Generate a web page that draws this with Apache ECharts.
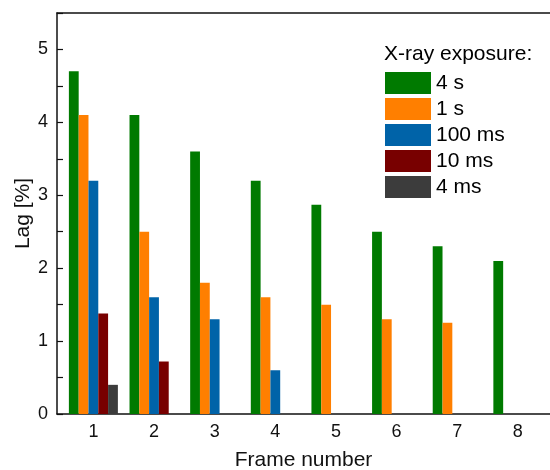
<!DOCTYPE html>
<html>
<head>
<meta charset="utf-8">
<script src="https://cdn.jsdelivr.net/npm/echarts@6/dist/echarts.min.js"></script>
<style>
  html, body { margin: 0; padding: 0; background: #fff; }
  #chart { width: 550px; height: 470px; }
</style>
</head>
<body>
<div id="chart"></div>
<script>
const frames = [1, 2, 3, 4, 5, 6, 7, 8]
const exposureNames = ['4 s', '1 s', '100 ms', '10 ms', '4 ms']
const lag4s = [4.7, 4.1, 3.6, 3.2, 2.87, 2.5, 2.3, 2.1]
const lag1s = [4.1, 2.5, 1.8, 1.6, 1.5, 1.3, 1.25, null]
const lag100ms = [3.2, 1.6, 1.3, 0.6, null, null, null, null]
const lag10ms = [1.38, 0.72, null, null, null, null, null, null]
const lag4ms = [0.4, null, null, null, null, null, null, null]
const colors = ['#007a00', '#ff7f00', '#0063a8', '#780000', '#3c3c3c']

const font = 'Liberation Sans, Arial, sans-serif'
const chart = echarts.init(document.getElementById('chart'))

const allValues = [lag4s, lag1s, lag100ms, lag10ms, lag4ms]

const series = allValues.map((vals, i) => ({
  name: exposureNames[i],
  type: 'bar',
  barWidth: 9.8,
  barGap: '0%',
  xAxisIndex: 0,
  data: frames.map((f, j) => [f, vals[j]]),
  itemStyle: { color: colors[i] }
}))

chart.setOption({
  animation: false,
  textStyle: { fontFamily: font },
  title: {
    text: 'X-ray exposure:',
    left: 384,
    top: 44,
    padding: 0,
    textStyle: { fontFamily: font, fontSize: 21, fontWeight: 'normal', color: '#000' }
  },
  legend: {
    orient: 'vertical',
    left: 385,
    top: 72,
    padding: 0,
    itemWidth: 46,
    itemHeight: 22,
    itemGap: 4,
    icon: 'rect',
    data: exposureNames,
    textStyle: { fontFamily: font, fontSize: 21, color: '#000', padding: [0, 0, 0, 0] }
  },
  grid: {
    left: 57,
    right: 0,
    top: 13,
    bottom: 56,
    containLabel: false,
    outerBoundsMode: 'none'
  },
  xAxis: [
    {
      type: 'value',
      min: 0.4,
      max: 8.53,
      position: 'bottom',
      splitLine: { show: false },
      axisLine: { show: true, onZero: false, lineStyle: { color: '#111', width: 1.5 } },
      axisTick: { show: false },
      axisLabel: {
        customValues: frames,
        fontSize: 18,
        color: '#111',
        margin: 9
      },
      name: 'Frame number',
      nameLocation: 'middle',
      nameGap: 36,
      nameMoveOverlap: false,
      nameTextStyle: { fontSize: 21, color: '#111' }
    },
    {
      type: 'value',
      min: 0.4,
      max: 8.53,
      position: 'top',
      splitLine: { show: false },
      axisLine: { show: true, onZero: false, lineStyle: { color: '#111', width: 1.5 } },
      axisTick: { show: false },
      axisLabel: { show: false }
    }
  ],
  yAxis: {
    type: 'value',
    min: 0,
    max: 5.5,
    interval: 0.5,
    splitLine: { show: false },
    axisLine: { show: true, lineStyle: { color: '#111', width: 1.5 } },
    axisTick: { show: true, inside: true, length: 6, lineStyle: { color: '#111', width: 1.2 } },
    axisLabel: {
      fontSize: 18,
      color: '#111',
      margin: 9,
      formatter: (v) => (Number.isInteger(v) && v <= 5 ? String(v) : '')
    },
    name: 'Lag [%]',
    nameLocation: 'middle',
    nameGap: 23,
    nameMoveOverlap: false,
    nameTextStyle: { fontSize: 21, color: '#111' }
  },
  series: series
})
</script>
</body>
</html>
